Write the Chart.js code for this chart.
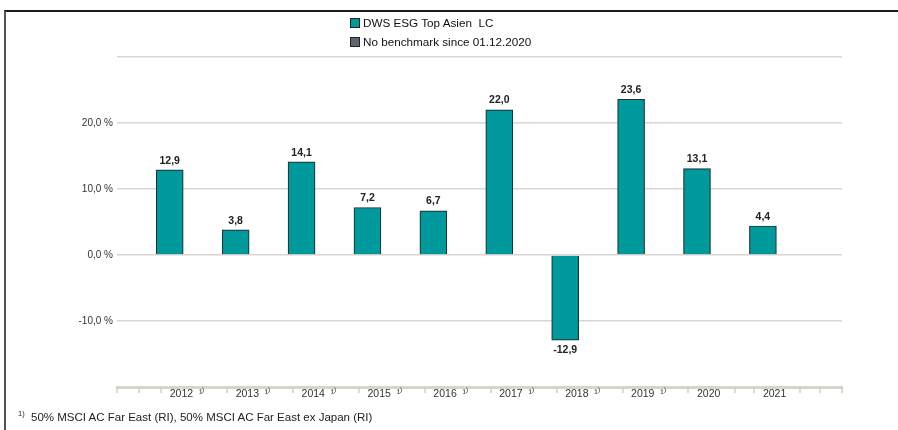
<!DOCTYPE html>
<html>
<head>
<meta charset="utf-8">
<script src="https://cdn.jsdelivr.net/npm/chart.js@4/dist/chart.umd.min.js"></script>
<style>
    body { margin: 0; background: #fff; font-family: "Liberation Sans", Arial, sans-serif; }
    #wrap { position: relative; width: 898px; height: 430px; overflow: hidden; }
    #frame { position: absolute; left: 4px; top: 10px; right: -2px; bottom: -2px; border-top: 2px solid #1c1c1c; border-left: 2px solid #555; }
    #chartBox { position: absolute; left: 0; top: 0; width: 898px; height: 430px; }
    #legend { position: absolute; left: 350px; top: 13px; font-size: 11.7px; color: #111; }
    .item { height: 19px; display: flex; align-items: center; white-space: pre; }
    .box { width: 8px; height: 8px; border: 1px solid #222; margin-right: 3px; }
    #note { position: absolute; left: 18px; top: 409px; font-size: 11.5px; color: #222; white-space: pre; }
    #note sup { font-size: 7.5px; }
</style>
</head>
<body>
<div id="wrap">
    <div id="frame"></div>
    <div id="chartBox"><canvas id="returnsChart"></canvas></div>
    <div id="legend"></div>
    <div id="note"><sup>1)</sup>  50% MSCI AC Far East (RI), 50% MSCI AC Far East ex Japan (RI)</div>
</div>
<script>
var years = [2012, 2013, 2014, 2015, 2016, 2017, 2018, 2019, 2020, 2021];
var fundReturns = [12.9, 3.8, 14.1, 7.2, 6.7, 22.0, -12.9, 23.6, 13.1, 4.4];
var hasFootnote = [true, true, true, true, true, true, true, true, false, false];
var xTickLabels = ["2012  ¹⁾", "2013  ¹⁾", "2014  ¹⁾", "2015  ¹⁾", "2016  ¹⁾", "2017  ¹⁾", "2018  ¹⁾", "2019  ¹⁾", "2020", "2021"];
var yTicks = [30, 20, 10, 0, -10, -20];
var yTickLabels = ["", "20,0 %", "10,0 %", "0,0 %", "-10,0 %", ""];
var seriesNames = ["DWS ESG Top Asien  LC", "No benchmark since 01.12.2020"];

Chart.defaults.font.family = '"Liberation Sans", Arial, sans-serif';

// value labels above / below the bars
var valueLabels = {
    id: "valueLabels",
    afterDatasetsDraw: function (chart) {
        var ctx = chart.ctx;
        var meta = chart.getDatasetMeta(0);
        ctx.save();
        ctx.font = 'bold 10.5px "Liberation Sans", Arial, sans-serif';
        ctx.fillStyle = "#222";
        ctx.textAlign = "center";
        meta.data.forEach(function (bar, i) {
            var v = fundReturns[i];
            var text = v.toFixed(1).replace(".", ",");
            if (v >= 0) {
                ctx.textBaseline = "bottom";
                ctx.fillText(text, bar.x, bar.y - 4);
            } else {
                ctx.textBaseline = "top";
                ctx.fillText(text, bar.x, bar.y + 5);
            }
        });
        ctx.restore();
    }
};

// small tick marks under the x axis line
var axisTicks = {
    id: "axisTicks",
    afterDraw: function (chart) {
        var xs = chart.scales.x;
        var ctx = chart.ctx;
        var top = chart.chartArea.bottom;
        var marks = [xs.min, xs.max, years[0] - 0.46, years[years.length - 1] + 0.87];
        years.forEach(function (y, i) {
            marks.push(y - 0.13);
            if (!hasFootnote[i]) marks.push(y + 0.57);
        });
        ctx.save();
        ctx.strokeStyle = "#d3cfc6";
        ctx.lineWidth = 1.5;
        marks.forEach(function (v) {
            var px = Math.round(xs.getPixelForValue(v));
            ctx.beginPath();
            ctx.moveTo(px, top);
            ctx.lineTo(px, top + 6);
            ctx.stroke();
        });
        ctx.restore();
    }
};

var ctx = document.getElementById("returnsChart").getContext("2d");
var chart = new Chart(ctx, {
    type: "bar",
    data: {
        labels: years,
        datasets: [
            {
                label: seriesNames[0],
                data: fundReturns,
                backgroundColor: "#009a9c",
                borderColor: "#1c3435",
                borderWidth: 1.2,
                barThickness: 27,
                grouped: false
            },
            {
                label: seriesNames[1],
                data: [],
                backgroundColor: "#5b6770",
                borderColor: "#222",
                borderWidth: 1,
                barThickness: 27,
                grouped: false
            }
        ]
    },
    options: {
        responsive: true,
        maintainAspectRatio: false,
        animation: false,
        layout: { padding: { top: 57, right: 56, bottom: 0, left: 0 } },
        plugins: {
            legend: { display: false },
            tooltip: { enabled: false }
        },
        scales: {
            x: {
                type: "linear",
                offset: false,
                min: 2011.2,
                max: 2022.2,
                afterBuildTicks: function (scale) {
                    scale.ticks = years.map(function (y) { return { value: y }; });
                },
                afterFit: function (scale) { scale.height = 43; },
                grid: { display: false, drawTicks: false, offset: false },
                border: { display: true, color: "#d8d4cc", width: 3 },
                ticks: {
                    align: "start",
                    padding: 1,
                    autoSkip: false,
                    maxRotation: 0,
                    color: "#333",
                    font: { size: 10.5 },
                    callback: function (value, index) { return xTickLabels[index]; }
                }
            },
            y: {
                min: -20,
                max: 30,
                afterBuildTicks: function (scale) {
                    scale.ticks = yTicks.map(function (v) { return { value: v }; });
                },
                afterFit: function (scale) { scale.width = 117; },
                grid: { color: "#d9d6cf", lineWidth: 1.5, drawTicks: false },
                border: { display: false },
                ticks: {
                    padding: 4,
                    color: "#333",
                    font: { size: 10 },
                    callback: function (value, index) { return yTickLabels[index]; }
                }
            }
        }
    },
    plugins: [valueLabels, axisTicks]
});

// legend as two stacked rows, built from the datasets
var legend = document.getElementById("legend");
chart.data.datasets.forEach(function (ds) {
    var row = document.createElement("div");
    row.className = "item";
    var box = document.createElement("span");
    box.className = "box";
    box.style.background = ds.backgroundColor;
    row.appendChild(box);
    row.appendChild(document.createTextNode(ds.label));
    legend.appendChild(row);
});
</script>
</body>
</html>
